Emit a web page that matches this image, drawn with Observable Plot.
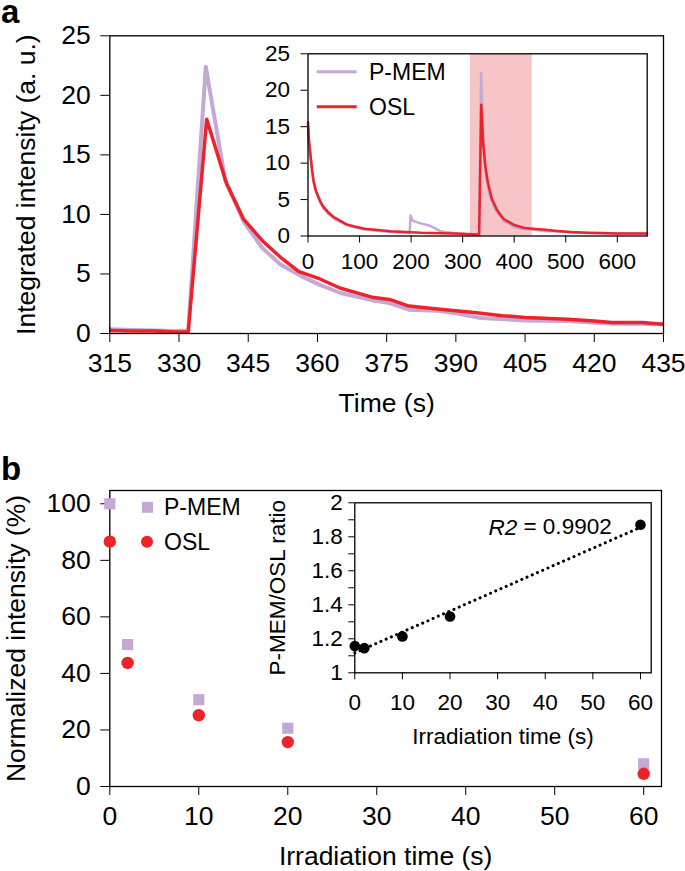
<!DOCTYPE html>
<html>
<head>
<meta charset="utf-8">
<script src="https://cdn.jsdelivr.net/npm/d3@7"></script>
<script src="https://cdn.jsdelivr.net/npm/@observablehq/plot@0.6"></script>
<style>
  html, body { margin: 0; padding: 0; background: #fff; }
  #fig { position: relative; width: 685px; height: 871px; font-family: "Liberation Sans", Arial, Helvetica, sans-serif; color: #000; }
  #fig > * { position: absolute; }
</style>
</head>
<body>
<div id="fig"></div>
<script>
// ---------- Panel a: main (zoom 315–435 s) ----------
const seriesNames = ["P-MEM", "OSL"];
const mainTimeOSL = [315, 320, 325, 329, 332, 336, 340.3, 344, 348.3, 352, 356, 360.4, 365, 371.8, 375.6, 379.8, 386, 394.5, 400, 405, 414.3, 420, 423.8, 430.4, 435];
const mainOSL     = [0.25, 0.2, 0.2, 0.12, 0.15, 18.0, 12.6, 9.6, 7.7, 6.4, 5.2, 4.6, 3.8, 3.05, 2.86, 2.3, 2.05, 1.74, 1.5, 1.35, 1.2, 1.05, 0.92, 0.92, 0.78];
const mainTimePMEM = [315, 320, 325, 329, 332, 335.8, 340, 344, 348, 352, 356.6, 360.4, 365, 371.8, 375.6, 379.8, 386, 390, 395.4, 404.9, 414.3, 423.8, 435];
const mainPMEM     = [0.35, 0.3, 0.25, 0.2, 0.25, 22.4, 12.9, 9.4, 7.2, 5.8, 4.8, 4.1, 3.4, 2.8, 2.55, 2.0, 1.9, 1.7, 1.3, 1.1, 1.04, 0.82, 0.8];
const xTicksA = [315, 330, 345, 360, 375, 390, 405, 420, 435];
const yTicksA = [0, 5, 10, 15, 20, 25];

// ---------- Panel a: inset (full 0–657 s) ----------
const insetTimeOSL = [0, 2, 5, 8, 11, 15, 20, 25, 30, 40, 50, 60, 75, 90, 110, 130, 160, 190, 220, 260, 300, 320, 332, 336, 340, 344, 348, 352, 356, 360, 365, 372, 380, 390, 400, 410, 420, 437, 460, 483, 510, 541, 570, 600, 630, 657];
const insetOSL     = [15.6, 13, 11, 9, 7.5, 6.3, 5.4, 4.6, 4.0, 3.2, 2.6, 2.2, 1.6, 1.3, 1.0, 0.85, 0.65, 0.55, 0.45, 0.38, 0.3, 0.25, 0.2, 18.0, 12.6, 9.6, 7.7, 6.4, 5.2, 4.6, 3.8, 3.0, 2.3, 1.9, 1.5, 1.3, 1.1, 1.0, 0.85, 0.7, 0.55, 0.45, 0.4, 0.35, 0.33, 0.35];
const insetTimePMEM = [0, 2, 5, 8, 11, 15, 20, 25, 30, 40, 50, 60, 75, 90, 110, 130, 160, 190, 197, 199, 203, 211, 220, 237, 256, 270, 288, 310, 332, 335.8, 340, 344, 348, 352, 356, 360, 365, 372, 380, 390, 400, 410, 420, 437, 460, 483, 510, 541, 570, 600, 630, 657];
const insetPMEM     = [15.4, 12.8, 10.8, 8.8, 7.3, 6.1, 5.2, 4.4, 3.8, 3.0, 2.4, 2.0, 1.5, 1.2, 0.9, 0.75, 0.55, 0.45, 0.4, 2.8, 2.1, 1.9, 1.7, 1.4, 0.7, 0.5, 0.35, 0.2, 0.2, 22.4, 12.9, 9.4, 7.2, 5.8, 4.9, 4.1, 3.4, 2.8, 2.0, 1.7, 1.2, 1.05, 0.95, 0.85, 0.7, 0.6, 0.5, 0.4, 0.35, 0.3, 0.3, 0.3];
const shadeRange = [315, 435];
const xTicksInsetA = [0, 100, 200, 300, 400, 500, 600];

// ---------- Panel b ----------
const irradiationTime = [0, 2, 10, 20, 60];
const pmemNormalized  = [100, 50.2, 30.7, 20.6, 8.0];
const oslNormalized   = [86.6, 43.7, 25.2, 15.7, 4.5];
const ratioPMEMtoOSL  = [1.157, 1.145, 1.214, 1.331, 1.871];
const r2Value = "0.9902";
const xTicksB = [0, 10, 20, 30, 40, 50, 60];
const yTicksB = [0, 20, 40, 60, 80, 100];
const yTicksInsetB = [1, 1.1, 1.2, 1.3, 1.4, 1.5, 1.6, 1.7, 1.8, 1.9, 2];

// ---------- styling ----------
const FONT = '"Liberation Sans", Arial, Helvetica, sans-serif';
const PURPLE = "#c4a8d6";
const RED = "#ee2229";
const PINK = "#f7c5c8";

const rows = (xs, ys) => xs.map((x, i) => ({x, y: ys[i]}));
const fig = document.getElementById("fig");
const place = (el, left, top) => { el.style.left = left + "px"; el.style.top = top + "px"; fig.appendChild(el); return el; };
const baseStyle = (size) => ({fontFamily: FONT, fontSize: size + "px", color: "#000", background: "transparent", overflow: "visible"});

// Panel a main
const mainA = Plot.plot({
  width: 685, height: 420,
  marginLeft: 109.3, marginRight: 22, marginTop: 35.3, marginBottom: 87,
  style: baseStyle(26.5),
  x: {domain: [315, 435], ticks: xTicksA, tickSize: 9, tickPadding: 11, label: "Time (s)", labelAnchor: "center", labelArrow: "none", labelOffset: 78},
  y: {domain: [0, 25], ticks: yTicksA, tickSize: 9, tickPadding: 10, label: "Integrated intensity (a. u.)", labelAnchor: "center", labelArrow: "none", labelOffset: 94},
  marks: [
    Plot.line(rows(mainTimePMEM, mainPMEM), {x: "x", y: "y", stroke: PURPLE, strokeWidth: 4, clip: true}),
    Plot.line(rows(mainTimeOSL, mainOSL), {x: "x", y: "y", stroke: RED, strokeWidth: 3.5, clip: true}),
    Plot.frame({stroke: "#000", strokeWidth: 1.3})
  ]
});
place(mainA, 0, 0);

// Panel a inset
const insetA = Plot.plot({
  width: 390, height: 240,
  marginLeft: 37.5, marginRight: 13.3, marginTop: 13.3, marginBottom: 44.5,
  style: baseStyle(22.5),
  x: {domain: [0, 658], ticks: xTicksInsetA, tickSize: 7, tickPadding: 10, label: null},
  y: {domain: [0, 25], ticks: yTicksA, tickSize: 7, tickPadding: 11, label: null},
  marks: [
    Plot.rect([{x1: shadeRange[0], x2: shadeRange[1]}], {x1: "x1", x2: "x2", fill: PINK}),
    Plot.line(rows(insetTimePMEM, insetPMEM), {x: "x", y: "y", stroke: PURPLE, strokeWidth: 2.5}),
    Plot.line(rows(insetTimeOSL, insetOSL), {x: "x", y: "y", stroke: RED, strokeWidth: 2.5}),
    Plot.frame({stroke: "#000", strokeWidth: 1.3})
  ]
});
place(insetA, 270, 40);

// Panel b main
const mainB = Plot.plot({
  width: 685, height: 431,
  marginLeft: 109.3, marginRight: 24, marginTop: 50, marginBottom: 85,
  style: baseStyle(26.5),
  x: {domain: [0, 62], ticks: xTicksB, tickSize: 9, tickPadding: 11, label: "Irradiation time (s)", labelAnchor: "center", labelArrow: "none", labelOffset: 78},
  y: {domain: [0, 104.7], ticks: yTicksB, tickSize: 9, tickPadding: 10, label: "Normalized intensity (%)", labelAnchor: "center", labelArrow: "none", labelOffset: 104},
  marks: [
    Plot.frame({stroke: "#000", strokeWidth: 1.3}),
    Plot.dot(rows(irradiationTime, pmemNormalized), {x: "x", y: "y", symbol: "square", r: 6.3, fill: PURPLE, stroke: "none"}),
    Plot.dot(rows(irradiationTime, oslNormalized), {x: "x", y: "y", symbol: "circle", r: 6.2, fill: RED, stroke: "none"})
  ]
});
place(mainB, 0, 440);

// Panel b inset
const insetB = Plot.plot({
  width: 420, height: 280,
  marginLeft: 104.3, marginRight: 19.3, marginTop: 32.3, marginBottom: 77.7,
  style: baseStyle(22.5),
  x: {domain: [0, 62.25], ticks: xTicksB, tickSize: 7, tickPadding: 14, label: "Irradiation time (s)", labelAnchor: "center", labelArrow: "none", labelOffset: 71},
  y: {domain: [1, 2], ticks: yTicksInsetB, tickSize: 6, tickPadding: 6,
      tickFormat: d => (Math.round(d * 10) % 2 === 0 ? d3.format("~g")(+d.toFixed(1)) : ""),
      label: "P-MEM/OSL ratio", labelAnchor: "center", labelArrow: "none", labelOffset: 86},
  marks: [
    Plot.frame({stroke: "#000", strokeWidth: 1.3}),
    Plot.linearRegressionY(rows(irradiationTime, ratioPMEMtoOSL), {x: "x", y: "y", ci: 0, stroke: "#000", strokeWidth: 3, strokeDasharray: "0.1,5.6", strokeLinecap: "round"}),
    Plot.dot(rows(irradiationTime, ratioPMEMtoOSL), {x: "x", y: "y", r: 5.3, fill: "#000", stroke: "none"})
  ]
});
place(insetB, 250, 470);

// ---------- overlay: panel letters, legends, annotation ----------
const NS = "http://www.w3.org/2000/svg";
const ov = document.createElementNS(NS, "svg");
ov.setAttribute("width", 685); ov.setAttribute("height", 871);
ov.style.fontFamily = FONT;
ov.style.overflow = "visible";
place(ov, 0, 0);
function txt(x, y, s, opts = {}) {
  const t = document.createElementNS(NS, "text");
  t.setAttribute("x", x); t.setAttribute("y", y);
  t.setAttribute("font-size", opts.size || 22);
  if (opts.weight) t.setAttribute("font-weight", opts.weight);
  if (opts.anchor) t.setAttribute("text-anchor", opts.anchor);
  t.setAttribute("dominant-baseline", opts.baseline || "alphabetic");
  if (opts.html) t.innerHTML = opts.html; else t.textContent = s;
  ov.appendChild(t); return t;
}
function el(name, attrs) {
  const e = document.createElementNS(NS, name);
  for (const k in attrs) e.setAttribute(k, attrs[k]);
  ov.appendChild(e); return e;
}
txt(1, 23, "a", {size: 33, weight: "bold"});
txt(1, 480, "b", {size: 33, weight: "bold"});

// legend a (inset)
el("line", {x1: 316.7, x2: 356.7, y1: 71.7, y2: 71.7, stroke: PURPLE, "stroke-width": 3});
el("line", {x1: 316.7, x2: 356.7, y1: 106.7, y2: 106.7, stroke: RED, "stroke-width": 3});
txt(369, 71.7, seriesNames[0], {size: 23, baseline: "central"});
txt(369, 106.7, seriesNames[1], {size: 23, baseline: "central"});

// legend b
el("rect", {x: 142, y: 501.8, width: 11, height: 11, fill: PURPLE});
el("circle", {cx: 147, cy: 541.7, r: 6, fill: RED});
txt(164, 507.3, seriesNames[0], {size: 23, baseline: "central"});
txt(164, 541.7, seriesNames[1], {size: 23, baseline: "central"});

// R2 annotation
txt(611.7, 526.7, "", {size: 22.5, anchor: "end", baseline: "central", html: '<tspan font-style="italic">R2</tspan> = ' + r2Value});
</script>
</body>
</html>
